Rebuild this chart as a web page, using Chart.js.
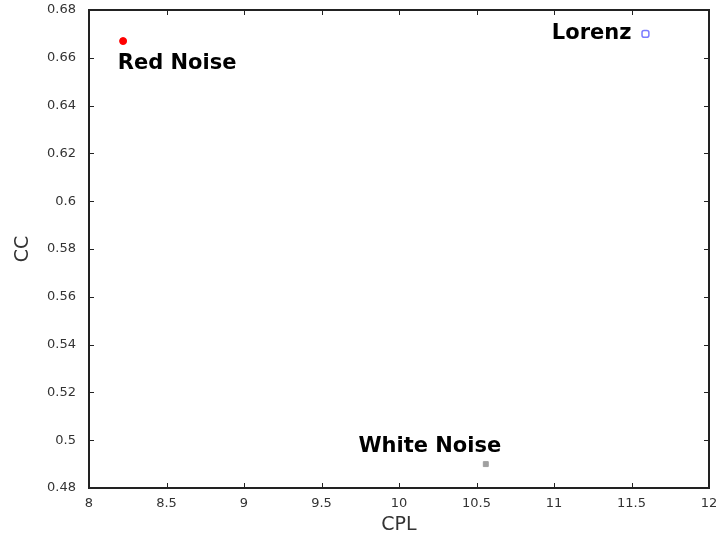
<!DOCTYPE html>
<html>
<head>
<meta charset="utf-8">
<script src="https://cdn.jsdelivr.net/npm/chart.js@4/dist/chart.umd.min.js"></script>
<style>
  html, body { margin: 0; padding: 0; background: #fff; }
  #wrap { width: 719px; height: 537px; position: relative; }
</style>
</head>
<body>
<div id="wrap"><canvas id="c"></canvas></div>
<script>
// Model names and their (CPL, CC) scores
const models = ['Red Noise', 'Lorenz', 'White Noise'];
const cplValues = [8.22, 11.59, 10.56];
const ccValues = [0.667, 0.670, 0.490];

// Axis tick values
const xTicks = [8, 8.5, 9, 9.5, 10, 10.5, 11, 11.5, 12];
const yTicks = [0.48, 0.5, 0.52, 0.54, 0.56, 0.58, 0.6, 0.62, 0.64, 0.66, 0.68];

// Per-model marker look and label placement (offset from the point, in px)
const markerStyles = [
  { style: 'circle', radius: 3.5, fill: '#ff0000', stroke: '#ff0000', width: 1 },
  { style: 'rectRounded', radius: 4, fill: '#ffffff', stroke: '#7b7bff', width: 1.5 },
  { style: 'rect', radius: 3.5, fill: '#a0a0a0', stroke: '#a0a0a0', width: 1 }
];
const labelPlacement = [
  { dx: 54, dy: 22, align: 'center' },
  { dx: -14, dy: 0, align: 'right' },
  { dx: -56, dy: -18, align: 'center' }
];

const datasets = models.map((name, i) => ({
  label: name,
  data: [{ x: cplValues[i], y: ccValues[i] }],
  pointStyle: markerStyles[i].style,
  pointRadius: markerStyles[i].radius,
  pointBackgroundColor: markerStyles[i].fill,
  pointBorderColor: markerStyles[i].stroke,
  pointBorderWidth: markerStyles[i].width
}));

// Frame around the plot area with short inward ticks on every side
const framePlugin = {
  id: 'frame',
  afterDatasetsDraw(chart) {
    const { ctx, chartArea: a, scales: { x, y } } = chart;
    ctx.save();
    ctx.strokeStyle = '#222';
    ctx.lineWidth = 1;
    const len = 5;
    ctx.beginPath();
    xTicks.forEach(v => {
      const px = Math.round(x.getPixelForValue(v)) + 0.5;
      ctx.moveTo(px, a.bottom); ctx.lineTo(px, a.bottom - len);
      ctx.moveTo(px, a.top); ctx.lineTo(px, a.top + len);
    });
    yTicks.forEach(v => {
      const py = Math.round(y.getPixelForValue(v)) + 0.5;
      ctx.moveTo(a.left, py); ctx.lineTo(a.left + len, py);
      ctx.moveTo(a.right, py); ctx.lineTo(a.right - len, py);
    });
    ctx.stroke();
    ctx.lineWidth = 2;
    ctx.strokeRect(a.left, a.top, a.right - a.left, a.bottom - a.top);
    ctx.restore();
  }
};

// Bold name label beside each point
const namePlugin = {
  id: 'names',
  afterDatasetsDraw(chart) {
    const { ctx } = chart;
    ctx.save();
    ctx.font = 'bold 21px "DejaVu Sans"';
    ctx.fillStyle = '#000';
    ctx.textBaseline = 'middle';
    chart.data.datasets.forEach((ds, i) => {
      const el = chart.getDatasetMeta(i).data[0];
      const p = labelPlacement[i];
      ctx.textAlign = p.align;
      ctx.fillText(models[i], el.x + p.dx, el.y + p.dy);
    });
    ctx.restore();
  }
};

new Chart(document.getElementById('c'), {
  type: 'scatter',
  data: { datasets },
  options: {
    responsive: true,
    maintainAspectRatio: false,
    animation: false,
    layout: { padding: { left: 0, top: 0, right: 10, bottom: 0 } },
    plugins: { legend: { display: false }, tooltip: { enabled: false } },
    scales: {
      x: {
        type: 'linear',
        min: 8, max: 12,
        afterBuildTicks: s => { s.ticks = xTicks.map(v => ({ value: v })); },
        afterFit: s => { s.height = 49; },
        grid: { display: false },
        border: { display: false },
        ticks: {
          padding: 0,
          color: '#333',
          font: { family: '"DejaVu Sans"', size: 13 },
          callback: v => String(v)
        },
        title: {
          display: true, text: 'CPL', color: '#333',
          font: { family: '"DejaVu Sans"', size: 19 },
          padding: { top: 0, bottom: 1 }
        }
      },
      y: {
        type: 'linear',
        min: 0.48, max: 0.68,
        afterBuildTicks: s => { s.ticks = yTicks.map(v => ({ value: v })); },
        afterFit: s => { s.width = 89; s.paddingTop = 10; s.paddingBottom = 0; },
        grid: { display: false },
        border: { display: false },
        ticks: {
          padding: 5,
          color: '#333',
          font: { family: '"DejaVu Sans"', size: 13 },
          callback: v => String(+v.toFixed(2))
        },
        title: {
          display: true, text: 'CC', color: '#333',
          font: { family: '"DejaVu Sans"', size: 19 },
          padding: { top: 12, bottom: 0 }
        }
      }
    }
  },
  plugins: [framePlugin, namePlugin]
});
</script>
</body>
</html>
